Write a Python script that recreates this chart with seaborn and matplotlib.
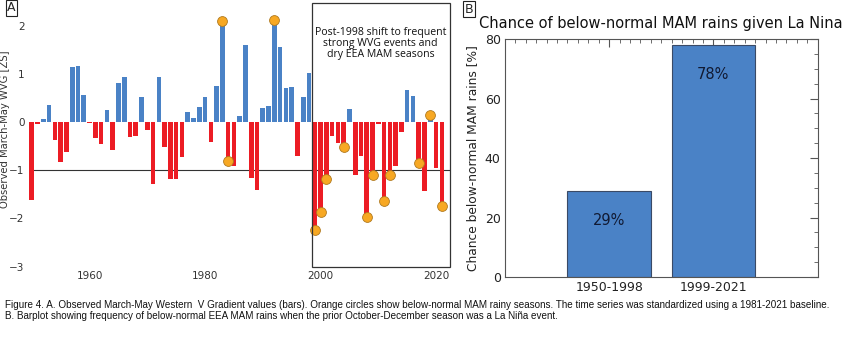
import numpy as np
import pandas as pd
import seaborn as sns
import matplotlib.pyplot as plt
from matplotlib.patches import Rectangle
from matplotlib.ticker import MultipleLocator
from matplotlib import font_manager

years = list(range(1950, 2022))
wvg = [-1.61, -0.03, 0.07, 0.35, -0.37, -0.82, -0.63, 1.15, 1.17, 0.57,
       -0.02, -0.34, -0.46, 0.25, -0.58, 0.81, 0.94, -0.32, -0.28, 0.51,
       -0.17, -1.28, 0.94, -0.52, -1.19, -1.18, -0.73, 0.21, 0.08, 0.31,
       0.53, -0.42, 0.74, 2.10, -0.80, -0.91, 0.13, 1.61, -1.17, -1.41,
       0.29, 0.33, 2.12, 1.56, 0.70, 0.72, -0.70, 0.51, 1.02, -2.24,
       -1.87, -1.19, -0.28, -0.44, -0.52, 0.28, -1.10, -0.70, -1.97, -1.10,
       -0.04, -1.63, -1.10, -0.91, -0.20, 0.66, 0.54, -0.86, -1.43, 0.15,
       -0.96, -1.75]
dry_years = [1983, 1984, 1992, 1999, 2000, 2001, 2004, 2008, 2009, 2011,
             2012, 2017, 2019, 2021]

periods = ["1950-1998", "1999-2021"]
chance = [29, 78]
chance_labels = ["29%", "78%"]

caption = ("Figure 4. A. Observed March-May Western  V Gradient values (bars). Orange circles show below-normal "
           "MAM rainy seasons. The time series was standardized using a 1981-2021 baseline.\n"
           "B. Barplot showing frequency of below-normal EEA MAM rains when the prior October-December "
           "season was a La Niña event.")

sns.set_style("white")
plt.rcParams['font.family'] = ['DejaVu Sans']

names = {f.name for f in font_manager.fontManager.ttflist}
cap_font = 'Liberation Sans Narrow' if 'Liberation Sans Narrow' in names else 'Liberation Sans'
cap_size = 8.4 if cap_font == 'Liberation Sans Narrow' else 7.1

blue = "#4a82c6"
red = "#ec1c24"
orange = "#f7a823"

df = pd.DataFrame({"year": years, "wvg": wvg})
df["sign"] = np.where(df["wvg"] >= 0, "pos", "neg")
dots = df[df["year"].isin(dry_years)]

fig = plt.figure(figsize=(8.5, 3.61), dpi=100)

# ---- panel A
ax1 = fig.add_axes([0.034, 0.2615, 0.496, 0.734])
sns.barplot(data=df, x="year", y="wvg", hue="sign", palette={"pos": blue, "neg": red},
            native_scale=True, dodge=False, legend=False, width=0.8, saturation=1,
            edgecolor="none", ax=ax1)
ax1.axhline(-1, color="#333333", lw=0.8, zorder=0)
sns.scatterplot(data=dots, x="year", y="wvg", color=orange, s=50,
                edgecolor="#b07a20", linewidth=0.6, zorder=5, ax=ax1)
ax1.set_xlim(1949.5, 2022.5)
ax1.set_ylim(-3, 2.5)
ax1.add_patch(Rectangle((1998.6, -3), 2022.4 - 1998.6, 5.47, fill=False,
                        edgecolor="#333333", lw=0.9, zorder=6, clip_on=False))
ax1.text(2010.4, 1.98, "Post-1998 shift to frequent\nstrong WVG events and\ndry EEA MAM seasons",
         ha="center", va="top", fontsize=7.6, family="Open Sans", linespacing=1.05,
         color="#111111")
for s in ax1.spines.values():
    s.set_visible(False)
ax1.set_xticks([1960, 1980, 2000, 2020])
ax1.set_yticks([-3, -2, -1, 0, 1, 2])
ax1.tick_params(length=0, labelsize=7.5, labelcolor="#333333", pad=3)
ax1.set_xlabel("")
ax1.set_ylabel("Observed March-May WVG [ZS]", fontsize=7.2, color="#333333")
ax1.yaxis.set_label_coords(-0.045, 0.52)

# ---- panel B
ax2 = fig.add_axes([0.594, 0.2327, 0.368, 0.659])
sns.barplot(x=periods, y=chance, color=blue, saturation=1, width=0.8,
            edgecolor="#3a4a66", linewidth=0.8, ax=ax2)
for i, lab in enumerate(chance_labels):
    ax2.text(i, chance[i] - 10, lab, ha="center", va="center", fontsize=10.5, color="#111a33")
ax2.set_xlim(-1, 2)
ax2.set_ylim(0, 80)
ax2.yaxis.set_major_locator(MultipleLocator(20))
ax2.yaxis.set_minor_locator(MultipleLocator(5))
ax2.xaxis.set_minor_locator(MultipleLocator(0.1))
ax2.tick_params(which="both", direction="in", top=True, right=True, color="#555555")
ax2.tick_params(which="major", length=6, labelsize=9, labelcolor="#222222", pad=3)
ax2.tick_params(which="minor", length=3)
for s in ax2.spines.values():
    s.set_color("#555555")
    s.set_linewidth(0.8)
ax2.set_title("Chance of below-normal MAM rains given La Nina", fontsize=10.5,
              color="#111111", pad=8)
ax2.set_ylabel("Chance below-normal MAM rains [%]", fontsize=8.8, color="#222222", labelpad=4)

# panel letters
fig.text(0.0135, 0.978, "A", fontsize=9, ha="center", va="center",
         bbox=dict(boxstyle="square,pad=0.12", fc="white", ec="#222222", lw=0.8))
fig.text(0.552, 0.975, "B", fontsize=9, ha="center", va="center",
         bbox=dict(boxstyle="square,pad=0.12", fc="white", ec="#222222", lw=0.8))

fig.text(0.006, 0.168, caption, fontsize=cap_size, family=cap_font, ha="left", va="top",
         linespacing=1.12, color="#111111")

fig.savefig("out.png", dpi=100)
